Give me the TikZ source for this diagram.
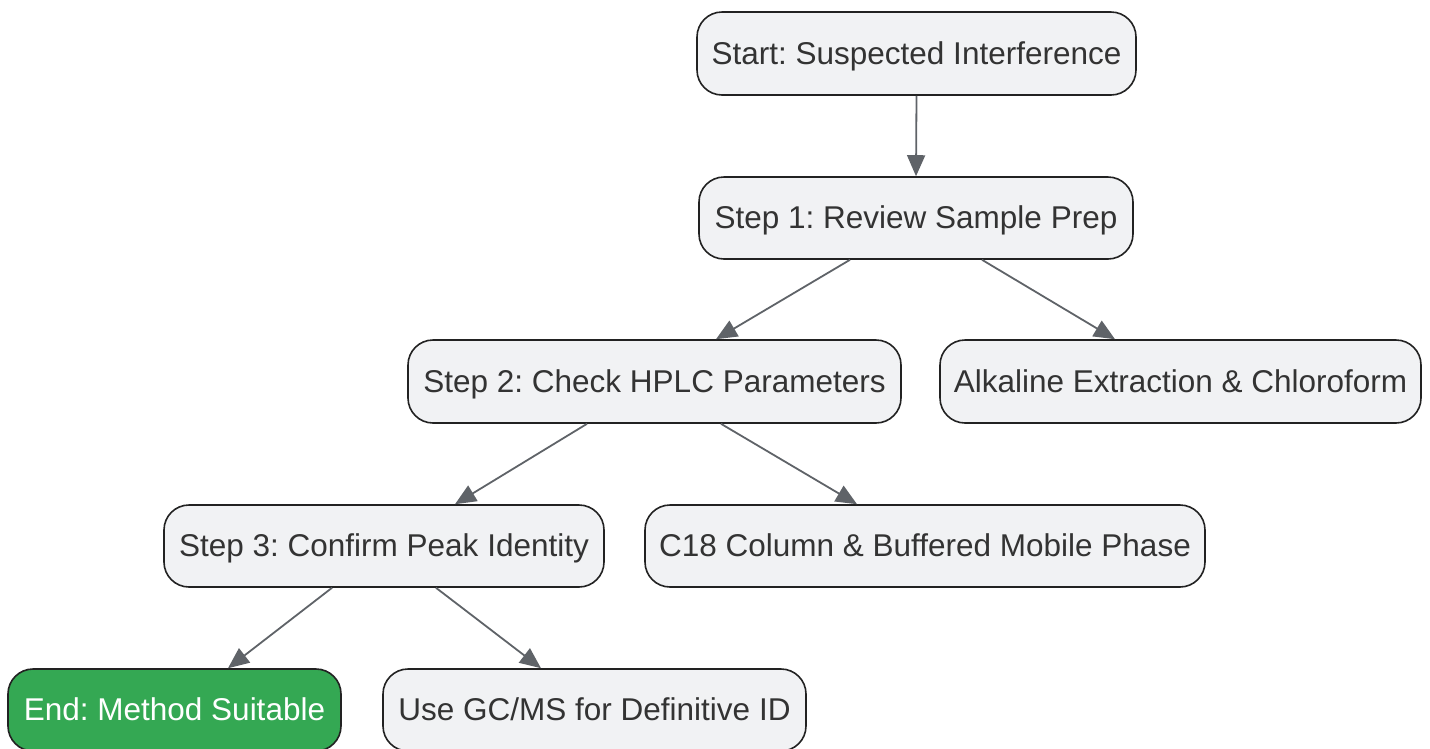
\documentclass[tikz,border=0pt]{standalone}
\usepackage{fontspec}
\setmainfont{Liberation Sans}
\usetikzlibrary{arrows.meta,calc}
\frenchspacing
\definecolor{boxfill}{HTML}{F1F2F4}
\definecolor{boxline}{HTML}{222222}
\definecolor{edgecol}{HTML}{5F6368}
\definecolor{txt}{HTML}{333333}
\definecolor{endgreen}{HTML}{34A853}
\tikzset{
  stepbox/.style={draw=boxline, line width=1.6pt, fill=boxfill, rounded corners=25pt,
    text=txt, font=\fontsize{31.5}{36}\selectfont, inner sep=0pt, anchor=center,
    text height=21pt, text depth=0pt},
  endbox/.style={stepbox, fill=endgreen, text=white},
  conn/.style={draw=edgecol, line width=1.8pt, -{Triangle[length=21pt,width=18pt]}}
}
\begin{document}
\begin{tikzpicture}[x=1pt,y=-1pt]
\useasboundingbox (0,0) rectangle (1430,748);
\node[stepbox, minimum width=439pt, minimum height=83pt] (start) at (916.5,53.5) {Start: Suspected Interference};
\node[stepbox, minimum width=434pt, minimum height=82pt] (s1) at (916,218) {Step 1: Review Sample Prep};
\node[stepbox, minimum width=493pt, minimum height=83pt] (s2) at (654.5,381.5) {Step 2: Check HPLC Parameters};
\node[stepbox, minimum width=481pt, minimum height=83pt] (alk) at (1180.5,381.5) {Alkaline Extraction \& Chloroform};
\node[stepbox, minimum width=440pt, minimum height=82pt] (s3) at (384,546) {Step 3: Confirm Peak Identity};
\node[stepbox, minimum width=560pt, minimum height=82pt] (c18) at (925,546) {C18 Column \& Buffered Mobile Phase};
\node[endbox, minimum width=333pt, minimum height=82pt] (end) at (174.5,710) {End: Method Suitable};
\node[stepbox, minimum width=423pt, minimum height=82pt] (gc) at (594.5,710) {Use GC/MS for Definitive ID};

\draw[conn] (start.south) -- (s1.north);
\draw[conn] ([xshift=-66pt]s1.south) -- ([xshift=61.5pt]s2.north);
\draw[conn] ([xshift=66pt]s1.south) -- ([xshift=-65.5pt]alk.north);
\draw[conn] ([xshift=-67.5pt]s2.south) -- ([xshift=71pt]s3.north);
\draw[conn] ([xshift=66.5pt]s2.south) -- ([xshift=-68pt]c18.north);
\draw[conn] ([xshift=-52pt]s3.south) -- ([xshift=53.5pt]end.north);
\draw[conn] ([xshift=52pt]s3.south) -- ([xshift=-53.5pt]gc.north);
\end{tikzpicture}
\end{document}
